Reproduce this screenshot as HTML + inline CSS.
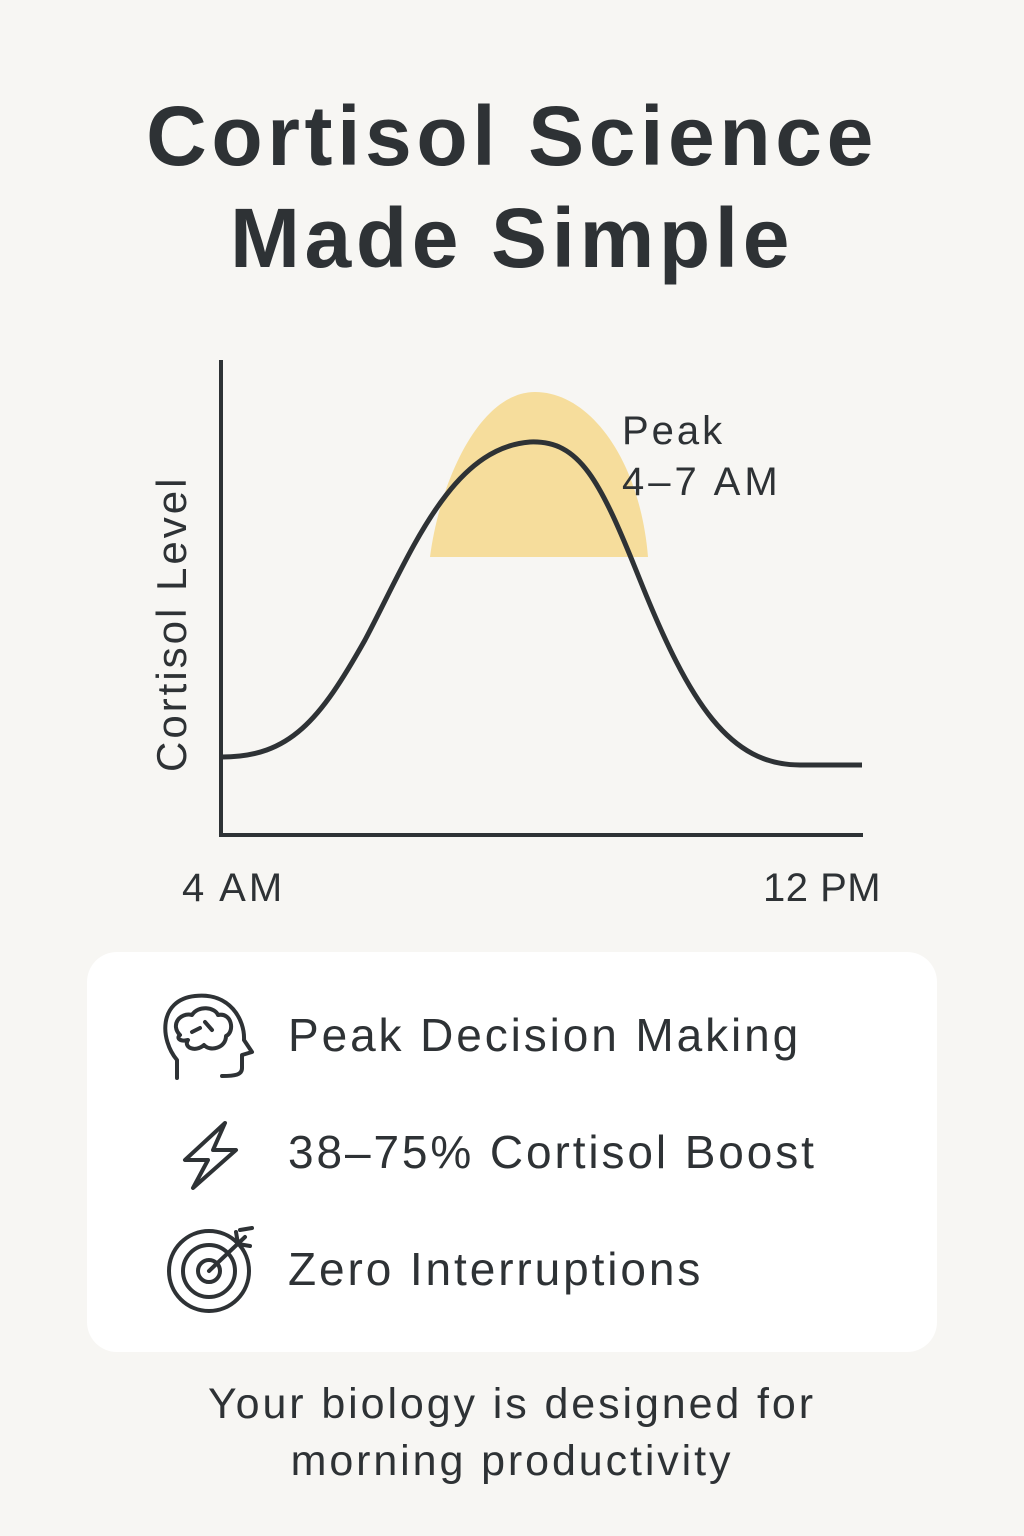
<!DOCTYPE html>
<html><head><meta charset="utf-8"><style>
body{margin:0;width:1024px;height:1536px;background:#f7f6f3;font-family:"Liberation Sans","DejaVu Sans",sans-serif;color:#2e3235;overflow:hidden;position:relative}
.t{position:absolute;left:0;width:1024px;text-align:center;font-weight:bold;font-size:84px;letter-spacing:4.6px}
.card{position:absolute;left:87px;top:952px;width:850px;height:400px;background:#fff;border-radius:30px}
.it{position:absolute;left:288px;font-size:46px;letter-spacing:2.9px}
.f{position:absolute;left:0;width:1024px;text-align:center;font-size:43px;letter-spacing:2.9px}
</style></head><body>
<div class="t" style="top:88px">Cortisol Science</div>
<div class="t" style="top:190px">Made Simple</div>
<svg width="1024" height="1536" style="position:absolute;left:0;top:0">
<path d="M430,557 C440,480 480,392 535,392 C590,392 640,460 648,557 Z" fill="#f6dd9c"/>
<path d="M221,360 V835 H863" fill="none" stroke="#2e3235" stroke-width="4"/>
<path d="M222,757 C290,757 320,720 365,640 C410,555 450,448 530,442 C580,440 600,480 640,580 C690,705 730,765 800,765 L862,765" fill="none" stroke="#2e3235" stroke-width="5"/>
<text x="622" y="444" font-size="40" fill="#2e3235" letter-spacing="3">Peak</text>
<text x="622" y="495" font-size="40" fill="#2e3235" letter-spacing="4">4–7 AM</text>
<text transform="translate(186,772) rotate(-90)" font-size="42" fill="#2e3235" letter-spacing="3">Cortisol Level</text>
<text x="182" y="901" font-size="40" fill="#2e3235" letter-spacing="3">4 AM</text>
<text x="763" y="901" font-size="40" fill="#2e3235" letter-spacing="0.5">12 PM</text>
</svg>
<div class="card"></div>
<svg width="1024" height="1536" style="position:absolute;left:0;top:0" fill="none" stroke="#2e3235" stroke-width="4" stroke-linecap="round" stroke-linejoin="round">
<path d="M177,1078 V1060 C160,1040 158,1000 195,996 C230,992 245,1020 244,1040 L252,1052 L242,1055 V1068 C242,1075 235,1076 222,1076"/>
<path d="M180,1035 C170,1025 180,1012 192,1015 C198,1005 215,1007 218,1015 C232,1012 235,1032 226,1036 C226,1048 210,1052 204,1045 C195,1053 183,1047 188,1040 C180,1042 176,1038 180,1035 Z M192,1032 L200,1028 M205,1022 L212,1030"/>
<path d="M225,1123 L185,1160 H208 L193,1188 L236,1150 H213 Z"/>
<circle cx="209" cy="1271" r="40"/><circle cx="209" cy="1271" r="26"/><circle cx="209" cy="1271" r="11"/>
<path d="M209,1271 L245,1237 M236,1232 L238,1244 L250,1246 M240,1230 L252,1228"/>
</svg>
<div class="it" style="top:1008px">Peak Decision Making</div>
<div class="it" style="top:1125px">38–75% Cortisol Boost</div>
<div class="it" style="top:1242px">Zero Interruptions</div>
<div class="f" style="top:1380px">Your biology is designed for</div>
<div class="f" style="top:1437px">morning productivity</div>
</body></html>
